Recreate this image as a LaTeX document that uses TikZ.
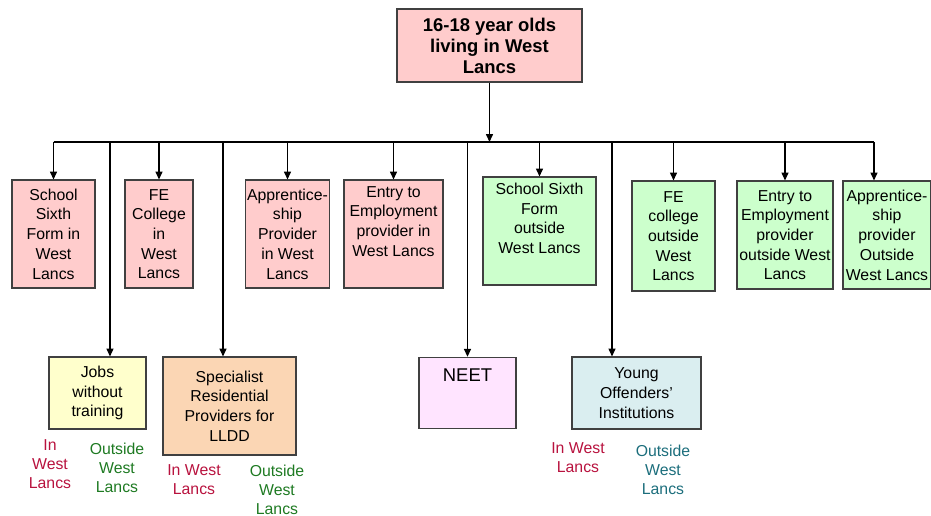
\documentclass[tikz,border=0pt]{standalone}
\usepackage{fontspec}
\setmainfont{Liberation Sans}
\usepackage{xcolor}
\usetikzlibrary{arrows.meta}

\definecolor{inpink}{HTML}{FFCCCC}
\definecolor{outgreen}{HTML}{CCFFCC}
\definecolor{jobsyellow}{HTML}{FFFFCC}
\definecolor{peach}{HTML}{FBD6B4}
\definecolor{neetpink}{HTML}{FFE4FF}
\definecolor{yoicyan}{HTML}{DAEEF0}
\definecolor{inred}{HTML}{B8123E}
\definecolor{outdark}{HTML}{1E7A22}
\definecolor{outteal}{HTML}{1C6E7C}

\begin{document}
\begin{tikzpicture}[x=0.02cm,y=-0.02cm,>={Triangle[length=4.5pt,width=4pt]},line width=0.7pt]
\tikzstyle{box}=[rectangle,draw=black!75,line width=0.6pt,align=center,inner sep=1pt,font=\fontsize{9}{11.2}\selectfont]
\tikzstyle{inbox}=[box,fill=inpink]
\tikzstyle{outbox}=[box,fill=outgreen]
\tikzstyle{note}=[align=center,inner sep=1pt,font=\fontsize{9}{10.8}\selectfont]

\useasboundingbox (0,0) rectangle (931,516);

\node[inbox,minimum width=3.7cm,minimum height=1.46cm,font=\fontsize{10.5}{12}\selectfont\bfseries](Youth) at (489.5,45.5){16-18 year olds\\living in West\\Lancs};
\coordinate (bus) at (488,142);

\node[inbox,minimum width=1.66cm,minimum height=2.16cm](SixthIn) at (53.5,234){School\\Sixth\\Form in\\West\\Lancs};
\node[inbox,minimum width=1.36cm,minimum height=2.16cm](CollegeIn) at (159,234){FE\\College\\in\\West\\Lancs};
\node[inbox,minimum width=1.66cm,minimum height=2.16cm](ApprenIn) at (287.5,234){Apprentice-\\ship\\Provider\\in West\\Lancs};
\node[inbox,minimum width=1.98cm,minimum height=2.16cm](EntryIn) at (393.5,234){Entry to\\Employment\\provider in\\West Lancs\\\strut};
\node[outbox,minimum width=2.26cm,minimum height=2.16cm](SixthOut) at (539.5,231){School Sixth\\Form\\outside\\West Lancs\\\strut};
\node[outbox,minimum width=1.66cm,minimum height=2.2cm](CollegeOut) at (673.5,236){FE\\college\\outside\\West\\Lancs};
\node[outbox,minimum width=1.92cm,minimum height=2.16cm](EntryOut) at (785,235){Entry to\\Employment\\provider\\outside West\\Lancs};
\node[outbox,minimum width=1.76cm,minimum height=2.16cm](ApprenOut) at (887,235){Apprentice-\\ship\\provider\\Outside\\West Lancs};

\node[box,fill=jobsyellow,minimum width=1.94cm,minimum height=1.44cm](Jobs) at (97.5,393){Jobs\\without\\training};
\node[box,fill=peach,minimum width=2.66cm,minimum height=1.96cm](Specialist) at (229.5,406){Specialist\\Residential\\Providers for\\LLDD};
\node[box,fill=neetpink,minimum width=1.94cm,text height=12.6pt,text depth=26pt,font=\fontsize{10.5}{12}\selectfont](NEET) at (467.5,393){NEET};
\node[box,fill=yoicyan,minimum width=2.58cm,minimum height=1.44cm](Offenders) at (636.5,393){Young\\Offenders'\\Institutions};

\node[note,text=inred](JobsIn) at (50,464){In\\West\\Lancs};
\node[note,text=outdark](JobsOut) at (117,468){Outside\\West\\Lancs};
\node[note,text=inred](SpecIn) at (194,480){In West\\Lancs};
\node[note,text=outdark](SpecOut) at (277,490){Outside\\West\\Lancs};
\node[note,text=inred](OffIn) at (578,458){In West\\Lancs};
\node[note,text=outteal](OffOut) at (663,470){Outside\\West\\Lancs};

\coordinate (JobsTop) at ([xshift=0.25cm]Jobs.north);
\coordinate (SpecTop) at ([xshift=-0.13cm]Specialist.north);
\coordinate (OffTop) at ([xshift=-0.49cm]Offenders.north);
\coordinate (ApprenOutTop) at ([xshift=-0.26cm]ApprenOut.north);

\draw[->] (Youth) -- (Youth |- bus);
\draw (SixthIn |- bus) -- (ApprenOutTop |- bus);
\draw[->] (SixthIn |- bus) -- (SixthIn);
\draw[->] (CollegeIn |- bus) -- (CollegeIn);
\draw[->] (ApprenIn |- bus) -- (ApprenIn);
\draw[->] (EntryIn |- bus) -- (EntryIn);
\draw[->] (SixthOut |- bus) -- (SixthOut);
\draw[->] (CollegeOut |- bus) -- (CollegeOut);
\draw[->] (EntryOut |- bus) -- (EntryOut);
\draw[->] (ApprenOutTop |- bus) -- (ApprenOutTop);
\draw[->] (JobsTop |- bus) -- (JobsTop);
\draw[->] (SpecTop |- bus) -- (SpecTop);
\draw[->] (NEET |- bus) -- (NEET);
\draw[->] (OffTop |- bus) -- (OffTop);

\end{tikzpicture}
\end{document}
